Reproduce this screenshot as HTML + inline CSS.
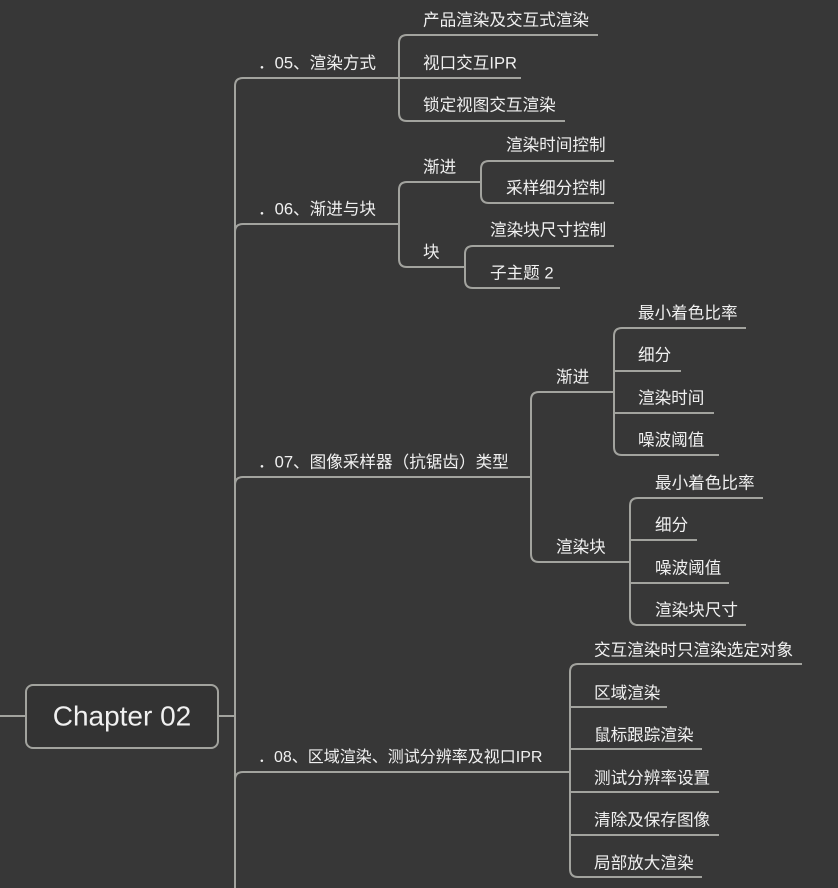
<!DOCTYPE html>
<html><head><meta charset="utf-8"><style>
body{margin:0;background:#373737;}
svg{display:block}
text{font-family:"Liberation Sans","Noto Sans CJK SC",sans-serif;font-size:16.6px;fill:#f0f0f0;dominant-baseline:middle}
</style></head><body>
<svg width="838" height="888" viewBox="0 0 838 888" xmlns="http://www.w3.org/2000/svg">
<g fill="none" stroke="#a2a39e" stroke-width="2">
<path d="M235,888 V86 Q235,78 243,78 H521"/>
<path d="M235,232 Q235,224 243,224 H399"/>
<path d="M235,485 Q235,477 243,477 H531"/>
<path d="M235,780 Q235,772 243,772 H570"/>
<path d="M0,716 H26 M218,716 H235"/>
<path d="M399,43 Q399,35 407,35 H598 M399,43 V113 Q399,121 407,121 H565"/>
<path d="M399,190 Q399,182 407,182 H481 M399,190 V259 Q399,267 407,267 H465"/>
<path d="M481,169 Q481,161 489,161 H614 M481,169 V195 Q481,203 489,203 H614"/>
<path d="M465,254 Q465,246 473,246 H614 M465,254 V280 Q465,288 473,288 H560"/>
<path d="M531,400 Q531,392 539,392 H614 M531,400 V554 Q531,562 539,562 H630"/>
<path d="M614,336 Q614,328 622,328 H746 M614,336 V447 Q614,455 622,455 H719 M614,371 H681 M614,413 H714"/>
<path d="M630,506 Q630,498 638,498 H763 M630,506 V617 Q630,625 638,625 H746 M630,540 H697 M630,583 H729"/>
<path d="M570,672 Q570,664 578,664 H802 M570,672 V869 Q570,877 578,877 H702 M570,707 H667 M570,749 H702 M570,792 H719 M570,835 H719"/>
</g>
<rect x="26" y="685" width="192" height="63" rx="7" fill="#333" stroke="#a2a39e" stroke-width="2"/>
<text x="122" y="718" text-anchor="middle" style="font-size:28px">Chapter 02</text>

<g transform="translate(0,2)">
<text x="258" y="62">．05、渲染方式</text>
<text x="423" y="19">产品渲染及交互式渲染</text>
<text x="423" y="62">视口交互IPR</text>
<text x="423" y="104">锁定视图交互渲染</text>

<text x="258" y="208">．06、渐进与块</text>
<text x="423" y="166">渐进</text>
<text x="423" y="251">块</text>
<text x="506" y="144">渲染时间控制</text>
<text x="506" y="187">采样细分控制</text>
<text x="490" y="229">渲染块尺寸控制</text>
<text x="490" y="272">子主题 2</text>

<text x="258" y="461">．07、图像采样器（抗锯齿）类型</text>
<text x="556" y="376">渐进</text>
<text x="556" y="546">渲染块</text>
<text x="638" y="312">最小着色比率</text>
<text x="638" y="354">细分</text>
<text x="638" y="397">渲染时间</text>
<text x="638" y="439">噪波阈值</text>
<text x="655" y="482">最小着色比率</text>
<text x="655" y="524">细分</text>
<text x="655" y="567">噪波阈值</text>
<text x="655" y="609">渲染块尺寸</text>

<text x="258" y="756" style="font-size:16px">．08、区域渲染、测试分辨率及视口IPR</text>
<text x="594" y="649">交互渲染时只渲染选定对象</text>
<text x="594" y="692">区域渲染</text>
<text x="594" y="734">鼠标跟踪渲染</text>
<text x="594" y="777">测试分辨率设置</text>
<text x="594" y="819">清除及保存图像</text>
<text x="594" y="862">局部放大渲染</text>
</g>
</svg>
</body></html>
